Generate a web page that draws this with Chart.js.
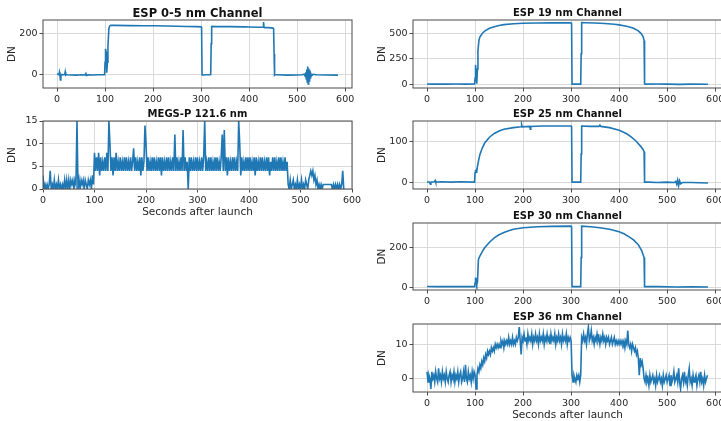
<!DOCTYPE html>
<html>
<head>
<meta charset="utf-8">
<script src="https://cdn.jsdelivr.net/npm/chart.js@4.4.0/dist/chart.umd.min.js"></script>
<style>
  html, body { margin: 0; padding: 0; background: #fff; }
  #fig { position: relative; width: 721px; height: 421px; overflow: hidden; }
  #fig canvas { position: absolute; }
</style>
</head>
<body>
<div id="fig"></div>
<script>
// ESP channels sampled irregularly: [seconds after launch, DN]
const esp05 = [[0,5],[2,2],[4,0],[5,12],[6,-2],[7,-25],[8,-4],[9,0],[10,1],[14,0],[16,2],[17,14],[18,-1],[19,1],[22,0],[30,-1],[40,-2],[45,-1],[50,0],[58,-1],[60,6],[61,-3],[62,0],[63,-1],[66,0],[75,-1],[85,0],[95,0],[99,0],[100,60],[101,125],[102,110],[103,40],[104,10],[105,60],[106,140],[108,225],[110,236],[112,238],[120,238],[150,237],[180,236],[200,236],[230,235],[250,234],[270,233],[290,232],[300,231],[301,229],[302,0],[303,-1],[310,0],[318,0],[320,1],[321,150],[322,232],[323,233],[330,232],[360,232],[390,231],[400,230],[420,229],[428,229],[429,229],[430,254],[431,230],[432,228],[440,227],[450,225],[451,224],[452,100],[453,-2],[454,0],[460,0],[480,-2],[500,-1],[510,0],[515,3],[517,-8],[518,12],[519,-20],[520,25],[521,-35],[522,40],[523,-45],[524,30],[525,-30],[526,20],[527,-15],[528,8],[530,-5],[533,2],[540,0],[560,-1],[585,-2]];

const esp19 = [[0,2],[10,0],[20,1],[40,0],[60,1],[80,0],[99,1],[100,60],[101,190],[102,120],[103,20],[104,5],[105,150],[106,330],[108,430],[110,465],[115,500],[120,525],[130,552],[140,568],[150,580],[160,588],[180,597],[200,602],[230,605],[260,606],[300,606],[301,605],[302,0],[310,0],[320,0],[321,300],[322,608],[330,607],[350,604],[370,599],[390,592],[400,586],[410,578],[420,567],[430,552],[440,527],[445,505],[450,470],[452,430],[453,5],[454,0],[480,1],[500,0],[525,-2],[550,0],[585,-1]];

const esp25 = [[0,3],[5,2],[7,-3],[8,2],[15,3],[17,6],[18,2],[30,3],[50,2],[70,3],[99,2],[100,25],[101,32],[102,26],[103,35],[104,28],[105,40],[107,52],[110,68],[115,84],[120,96],[130,110],[140,119],[150,125],[160,129],[180,133],[196,135],[197,140],[198,135],[214,136],[215,129],[216,136],[240,137],[270,137],[300,137],[301,136],[302,2],[310,2],[320,2],[321,70],[322,137],[340,136],[358,136],[360,139],[362,136],[380,133],[400,127],[415,119],[425,111],[435,101],[445,88],[450,80],[452,75],[453,2],[460,2],[480,1],[500,2],[515,1],[518,4],[520,-3],[522,7],[524,-6],[526,5],[528,-2],[532,1],[550,1],[585,0]];

const esp30 = [[0,3],[20,2],[40,3],[60,2],[80,2],[99,2],[100,20],[101,48],[102,28],[103,45],[104,12],[105,25],[107,140],[110,158],[115,180],[120,200],[130,228],[140,250],[150,266],[160,278],[170,287],[180,294],[200,302],[230,307],[260,309],[300,310],[301,309],[302,2],[310,2],[320,2],[321,150],[322,310],[340,307],[360,302],[380,294],[400,281],[410,271],[420,257],[430,240],[440,215],[447,185],[452,150],[453,2],[480,2],[520,0],[550,1],[585,0]];

// noisy channels, one value every 2 s from launch (rows of 50 s)
const cadence = 2;
const megsP = [
  3,0,1,0,1,0,1,4,0,1, 0,2,0,1,0,2,0,1,0,1, 0,2,0,2,0,
  2,0,2,1,2,0,2,1,15,0, 2,0,2,1,2,0,2,1,0,2, 1,2,0,3,1,
  8,4,7,4,8,3,7,4,6,4, 7,4,8,4,15,10,4,7,3,7, 4,8,4,6,4,
  7,4,6,4,7,4,7,4,6,4, 7,4,6,9,4,7,4,6,4,7, 3,7,4,6,14,
  10,4,7,4,6,4,7,4,7,4, 6,4,7,4,7,3,7,4,6,4, 7,4,7,4,6,
  4,7,4,12,4,7,4,6,4,7, 4,13,4,7,4,6,0,7,4,7, 4,6,4,7,4,
  7,4,6,4,7,4,7,15,4,6, 4,7,4,7,4,6,4,7,4,7, 4,6,4,7,12,
  4,13,4,7,3,7,4,6,4,7, 4,7,4,6,4,15,10,3,7,4, 6,4,7,4,7,
  4,7,4,6,4,7,3,7,4,6, 4,7,4,7,4,6,4,7,4,7, 3,6,4,7,4,
  7,4,6,4,7,4,7,4,6,4, 7,4,6,
  1,0,2,0,1,2,0,1,0,2, 0,1,0,2,0,1,0,2,1,0, 2,3,4,3,4,
  2,3,1,2,0,1,0,1,0,1, 1,1,1,1,1,1,1,1,0,1, 0,1,0,1,0,
  1,0,1,4,0
];
const esp36 = [
  2,-1,1,0,-3,2,0,1,-1,2, 0,-1,3,0,1,-1,2,0,1,-1, 2,0,-1,1,2,
  -1,1,0,2,-1,1,0,2,-1,1, 2,-1,0,2,-1,4,0,-1,2,0, 1,-1,2,0,2,
  1,-3,1,3,2,4,3,5,4,6, 5,7,6,8,7,8,7,9,8,9, 8,10,9,10,9,
  10,9,11,10,11,9,11,10,11,10, 12,10,11,10,12,10,11,10,12,11, 12,15,11,7,12,
  11,13,11,12,10,13,11,12,11,13, 10,12,11,13,11,12,10,13,11,12, 11,13,10,12,11,
  13,11,12,10,13,11,12,11,13,10, 12,11,13,11,12,10,13,11,12,11, 13,10,12,11,12,
  11,1,-1,1,0,-1,1,0,1,-1, 1,12,11,13,11,12,10,13,15,11, 12,14,11,12,10,
  12,11,13,11,12,10,12,11,13,11, 12,10,12,11,12,10,11,12,10,11, 12,10,11,10,11,
  10,11,10,11,10,11,9,11,10,14, 10,9,10,8,10,9,8,9,7,8, 6,1,6,4,5,
  3,0,-1,1,-1,0,-2,1,-1,0, 1,-1,0,-2,1,-1,0,1,-1,0, -2,1,-1,0,1,
  -1,0,1,-2,1,-1,0,2,-1,0, 1,-1,3,-1,-3,0,1,-1,2,-1, 0,-2,1,3,-1,
  0,-2,1,-1,0,1,-2,0,1,-1, 2,-1,0,-2,1,-1,0,1
];

const timeTicks = [0, 100, 200, 300, 400, 500, 600];

const lineColor = '#1f77b4';
const textColor = '#262626';
const gridColor = '#dadada';
const fig = document.getElementById('fig');

// frame around the plot area plus a bold title above it
const panelDecor = {
  id: 'panelDecor',
  afterDraw(chart, args, opts) {
    const { ctx, chartArea: a } = chart;
    ctx.save();
    ctx.strokeStyle = '#4a4a4a';
    ctx.lineWidth = 1;
    ctx.strokeRect(a.left, a.top, a.right - a.left, a.bottom - a.top);
    ctx.fillStyle = '#111';
    ctx.font = 'bold ' + opts.size + 'px "DejaVu Sans"';
    ctx.textAlign = 'center';
    ctx.textBaseline = 'alphabetic';
    ctx.fillText(opts.text, (a.left + a.right) / 2, a.top - 7.5 + opts.size * 0.36);
    ctx.restore();
  }
};

function makePanel(box, p) {
  const padL = 44, padT = 22, padR = 14;
  const padB = p.xTitle ? 32 : 18;
  const w = Math.round(box.r - box.l + padL + padR);
  const h = Math.round(box.b - box.t + padT + padB);
  const cv = document.createElement('canvas');
  cv.width = w; cv.height = h;
  cv.style.width = w + 'px'; cv.style.height = h + 'px';
  cv.style.left = (box.l - padL) + 'px';
  cv.style.top = (box.t - padT) + 'px';
  fig.appendChild(cv);

  const tickFont = { family: 'DejaVu Sans', size: 9.5 };
  const labelFont = { family: 'DejaVu Sans', size: 10.5 };

  new Chart(cv, {
    type: 'line',
    data: {
      datasets: [{
        data: p.points,
        borderColor: lineColor,
        borderWidth: 1.6,
        pointRadius: 0,
        tension: 0,
        fill: false
      }]
    },
    options: {
      responsive: false,
      animation: false,
      devicePixelRatio: 1,
      parsing: false,
      layout: { padding: { top: padT, right: padR, left: 0, bottom: 0 } },
      plugins: {
        legend: { display: false },
        tooltip: { enabled: false },
        panelDecor: { text: p.title, size: p.titleSize || 10 }
      },
      scales: {
        x: {
          type: 'linear',
          min: p.xMin, max: p.xMax,
          afterBuildTicks: s => { s.ticks = timeTicks.map(v => ({ value: v })); },
          afterFit: s => { s.height = padB; },
          ticks: { font: tickFont, color: textColor, padding: 2, maxRotation: 0, autoSkip: false },
          grid: { color: gridColor, tickColor: '#4a4a4a', tickLength: 3.5 },
          border: { display: false },
          title: {
            display: !!p.xTitle, text: p.xTitle, font: labelFont, color: textColor,
            padding: { top: 0, bottom: padB - 23 - 6.3 }
          }
        },
        y: {
          type: 'linear',
          min: p.yMin, max: p.yMax,
          afterBuildTicks: s => { s.ticks = p.yTicks.map(v => ({ value: v })); },
          afterFit: s => { s.width = padL; },
          ticks: { font: tickFont, color: textColor, padding: 2 },
          grid: { color: gridColor, tickColor: '#4a4a4a', tickLength: 3.5 },
          border: { display: false },
          title: {
            display: true, text: 'DN', font: labelFont, color: textColor,
            padding: { top: padL - 31 - 6.3, bottom: 0 }
          }
        }
      }
    },
    plugins: [panelDecor]
  });
}

const pairs = list => list.map(([t, v]) => ({ x: t, y: v }));
const sampled = list => list.map((v, i) => ({ x: i * cadence, y: v }));

const espX = { xMin: -29.25, xMax: 614.25 };

makePanel({ l: 43, r: 352, t: 20, b: 88 }, Object.assign({
  title: 'ESP 0-5 nm Channel', titleSize: 11.5, points: pairs(esp05),
  yMin: -64, yMax: 264, yTicks: [0, 200]
}, espX));

makePanel({ l: 43, r: 352, t: 121, b: 189 }, {
  title: 'MEGS-P 121.6 nm', points: sampled(megsP),
  xMin: 0, xMax: 600, yMin: 0, yMax: 15, yTicks: [0, 5, 10, 15],
  xTitle: 'Seconds after launch'
});

makePanel({ l: 413, r: 722, t: 20, b: 88 }, Object.assign({
  title: 'ESP 19 nm Channel', points: pairs(esp19),
  yMin: -38, yMax: 634, yTicks: [0, 250, 500]
}, espX));

makePanel({ l: 413, r: 722, t: 121, b: 189 }, Object.assign({
  title: 'ESP 25 nm Channel', points: pairs(esp25),
  yMin: -14.5, yMax: 149, yTicks: [0, 100]
}, espX));

makePanel({ l: 413, r: 722, t: 223, b: 290 }, Object.assign({
  title: 'ESP 30 nm Channel', points: pairs(esp30),
  yMin: -15, yMax: 326, yTicks: [0, 200]
}, espX));

makePanel({ l: 413, r: 722, t: 324, b: 392 }, Object.assign({
  title: 'ESP 36 nm Channel', points: sampled(esp36),
  yMin: -3.9, yMax: 15.9, yTicks: [0, 10],
  xTitle: 'Seconds after launch'
}, espX));
</script>
</body>
</html>
